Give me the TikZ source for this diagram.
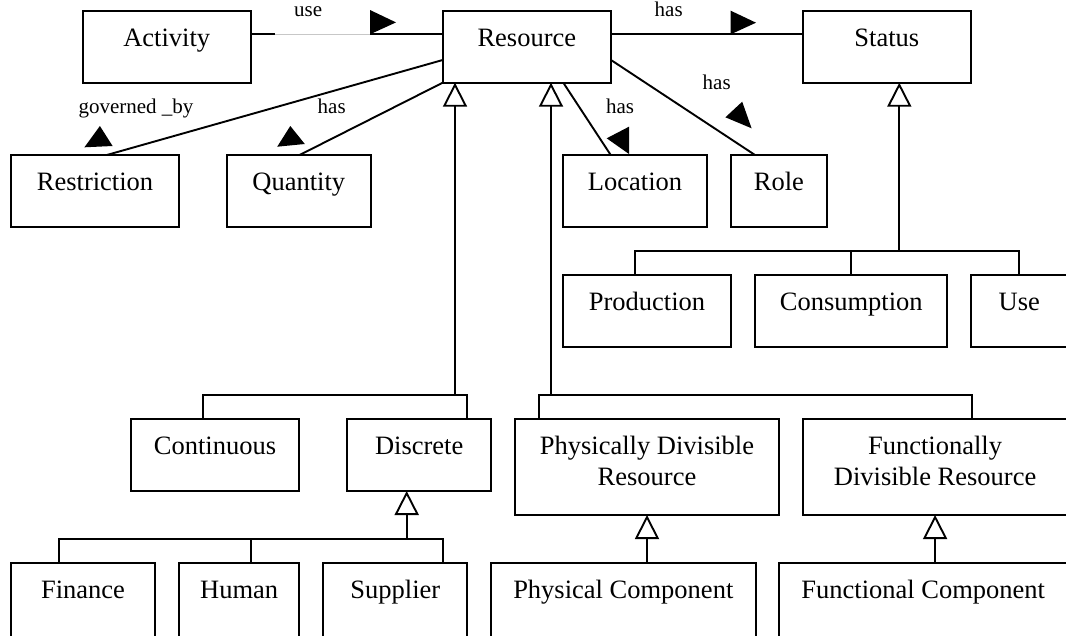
\documentclass[tikz,border=0pt]{standalone}
\usepackage{fontspec}
\setmainfont{Liberation Serif}
\usetikzlibrary{arrows.meta}

\tikzset{
  box/.style={draw, rectangle, line width=1.9pt, inner sep=0pt, outer sep=0pt},
  boxtext/.style={anchor=base, inner sep=0pt, font=\fontsize{26.5}{31}\selectfont},
  rolelabel/.style={anchor=base, inner sep=0pt, font=\fontsize{21}{24}\selectfont},
  rel/.style={line width=1.9pt},
  faintrel/.style={draw=black!22, line width=1pt},
  gen/.style={line width=1.9pt, -{Triangle[open, length=24pt, width=24pt]}},
  navtip/.style={fill=black},
}

% class box: name, left, top, right, bottom (y grows downwards)
\newcommand{\umlbox}[5]{%
  \node[box, minimum width={#4-#2}, minimum height={#5-#3}] (#1) at ({(#2+#4)/2},{(#3+#5)/2}) {};}

\begin{document}
\begin{tikzpicture}[x=1pt, y=-1pt]
\fill[white] (0,0) rectangle (1066,635);
\useasboundingbox (0,0) rectangle (1066,635);

% ---- classes ----
\umlbox{activity}{82.7}{11}{250.7}{82.7}
\umlbox{resource}{442.7}{11}{611}{82.7}
\umlbox{status}{802.7}{11}{971}{82.7}
\umlbox{restriction}{11.4}{155}{178.7}{226.7}
\umlbox{quantity}{226.6}{155}{371}{226.7}
\umlbox{location}{562.7}{155}{707.3}{226.7}
\umlbox{role}{730.7}{155}{827}{226.7}
\umlbox{production}{562.7}{275}{731.3}{347.3}
\umlbox{consumption}{755.3}{275}{947.3}{347.3}
\umlbox{use}{971}{275}{1067.5}{347.3}
\umlbox{continuous}{130.7}{419.3}{299.3}{491}
\umlbox{discrete}{347.3}{419.3}{491}{491}
\umlbox{pdr}{515}{419.3}{779}{515}
\umlbox{fdr}{802.7}{419.3}{1067.5}{515}
\umlbox{finance}{11}{562.7}{155}{637}
\umlbox{human}{179}{562.7}{299.3}{637}
\umlbox{supplier}{323.3}{562.7}{467.3}{637}
\umlbox{physcomp}{491}{562.7}{755.6}{637}
\umlbox{funccomp}{779}{562.7}{1067.5}{637}

% ---- class names ----
\node[boxtext] (activity-t) at ([yshift=-35pt]activity.north) {Activity};
\node[boxtext] (resource-t) at ([yshift=-35pt]resource.north) {Resource};
\node[boxtext] (status-t) at ([yshift=-35pt]status.north) {Status};
\node[boxtext] (restriction-t) at ([yshift=-35pt]restriction.north) {Restriction};
\node[boxtext] (quantity-t) at ([yshift=-35pt]quantity.north) {Quantity};
\node[boxtext] (location-t) at ([yshift=-35pt]location.north) {Location};
\node[boxtext] (role-t) at ([yshift=-35pt]role.north) {Role};
\node[boxtext] (production-t) at ([yshift=-35pt]production.north) {Production};
\node[boxtext] (consumption-t) at ([yshift=-35pt]consumption.north) {Consumption};
\node[boxtext] (use-t) at ([yshift=-35pt]use.north) {Use};
\node[boxtext] (continuous-t) at ([yshift=-35pt]continuous.north) {Continuous};
\node[boxtext] (discrete-t) at ([yshift=-35pt]discrete.north) {Discrete};
\node[boxtext] (pdr-t1) at ([yshift=-34.7pt]pdr.north) {Physically Divisible};
\node[boxtext] (pdr-t2) at ([yshift=-65.7pt]pdr.north) {Resource};
\node[boxtext] (fdr-t1) at ([yshift=-34.7pt]fdr.north) {Functionally};
\node[boxtext] (fdr-t2) at ([yshift=-65.7pt]fdr.north) {Divisible Resource};
\node[boxtext] (finance-t) at ([yshift=-35.5pt]finance.north) {Finance};
\node[boxtext] (human-t) at ([yshift=-35.5pt]human.north) {Human};
\node[boxtext] (supplier-t) at ([yshift=-35.5pt]supplier.north) {Supplier};
\node[boxtext] (physcomp-t) at ([yshift=-35.5pt]physcomp.north) {Physical Component};
\node[boxtext] (funccomp-t) at ([yshift=-35.5pt]funccomp.north) {Functional Component};

% ---- generalisation hooks under the parents ----
\coordinate (resA) at ([xshift=12.3pt]resource.south west);
\coordinate (resB) at ([xshift=108.3pt]resource.south west);
\coordinate (statG) at ([xshift=96.6pt]status.south west);
\coordinate (discG) at ([xshift=59.4pt]discrete.south west);
\coordinate (humD) at ([xshift=72pt]human.north west);

% Resource -> Continuous, Discrete
\draw[rel] ([xshift=72pt]continuous.north west) -- ++(0,-24) coordinate (busA)
  -| ([xshift=-23.7pt]discrete.north east);
\draw[gen] (busA -| resA) -- (resA);

% Resource -> Physically / Functionally Divisible Resource
\draw[rel] ([xshift=24.3pt]pdr.north west) -- ++(0,-24) coordinate (busB)
  -| ([xshift=169pt]fdr.north west);
\draw[gen] (busB -| resB) -- (resB);

% Status -> Production, Consumption, Use
\draw[rel] ([xshift=72.3pt]production.north west) -- ++(0,-24) coordinate (busC)
  -| (use.north);
\draw[rel] (busC -| consumption.north) -- (consumption.north);
\draw[gen] (busC -| statG) -- (statG);

% Discrete -> Finance, Human, Supplier
\draw[rel] ([xshift=48pt]finance.north west) -- ++(0,-23.4) coordinate (busD)
  -| ([xshift=-24.6pt]supplier.north east);
\draw[rel] (busD -| humD) -- (humD);
\draw[gen] (busD -| discG) -- (discG);

% components
\draw[gen] (pdr.south |- physcomp.north) -- (pdr.south);
\draw[gen] (fdr.south |- funccomp.north) -- (fdr.south);

% ---- associations ----
\coordinate (u0) at ([yshift=-23.3pt]activity.north east);
\coordinate (u1) at ([xshift=24.1pt]u0);
\coordinate (u2) at ([xshift=119.3pt]u0);
\draw[rel] (u0) -- (u1);
\draw[faintrel] (u1) -- (u2);
\draw[rel] (u2) -- (u2 -| resource.west);

\coordinate (s0) at ([yshift=-23.3pt]resource.north east);
\draw[rel] (s0) -- (s0 -| status.west);

\draw[rel] ([xshift=95.4pt]restriction.north west) -- ([yshift=-49pt]resource.north west);
\draw[rel] ([xshift=73pt]quantity.north west) -- (resource.south west);
\draw[rel] ([xshift=48pt]location.north west) -- ([xshift=120.6pt]resource.south west);
\draw[rel] ([xshift=24.3pt]role.north west) -- ([yshift=-49pt]resource.north east);

% navigation triangles
\fill[navtip] (u2) -- ++(0,-24.3) -- ++(26,12.4) -- cycle;
\fill[navtip] (730.7,34.3) -- (730.7,10.7) -- (756,22.7) -- cycle;
\fill[navtip] (99.9,126) -- (84.4,147.3) -- (112.6,146) -- cycle;
\fill[navtip] (290.3,126) -- (277.2,146.7) -- (304.8,144) -- cycle;
\fill[navtip] (629,126.7) -- (629,154) -- (606.7,138.3) -- cycle;
\fill[navtip] (742.2,101.7) -- (725.4,117.3) -- (751.6,128.3) -- cycle;

% ---- role labels ----
\node[rolelabel] (lbl-use) at (308.2,16.7) {use};
\node[rolelabel] (lbl-status) at (668.7,16.7) {has};
\node[rolelabel] (lbl-gov) at (136,113) {governed \_by};
\node[rolelabel] (lbl-qty) at (331.7,113) {has};
\node[rolelabel] (lbl-loc) at (620,113) {has};
\node[rolelabel] (lbl-role) at (716.7,89.3) {has};
\end{tikzpicture}
\end{document}
